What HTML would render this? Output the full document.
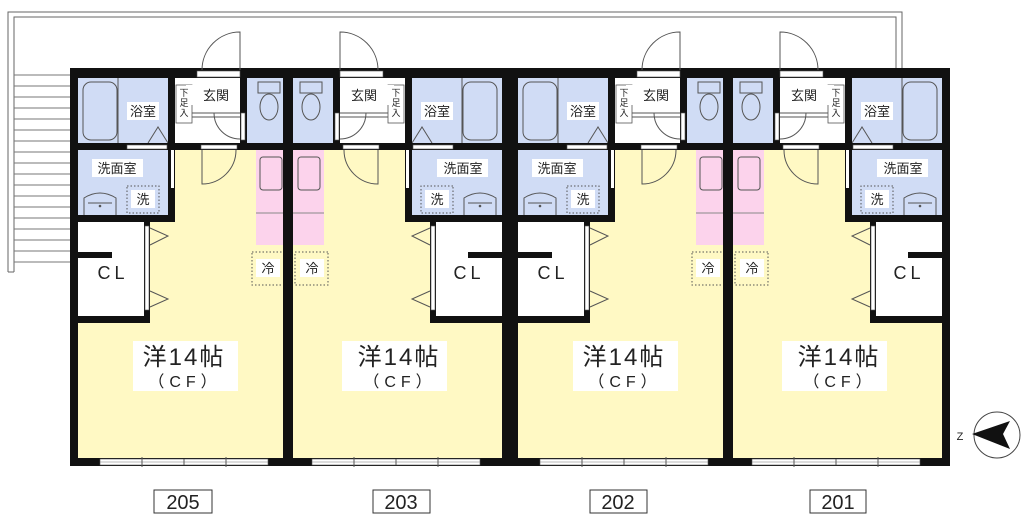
<!DOCTYPE html>
<html><head><meta charset="utf-8"><style>
html,body{margin:0;padding:0;background:#fff}
svg{display:block}
text{font-family:"Liberation Sans","Noto Sans CJK JP",sans-serif;fill:#222}
</style></head><body>
<svg width="1024" height="521" viewBox="0 0 1024 521" xmlns="http://www.w3.org/2000/svg">
<defs>
<g id="u">
  <rect x="77" y="78" width="212" height="380" fill="#fff"/>
  <rect x="77" y="150" width="212" height="308" fill="#fff9c4"/>
  <rect x="78" y="78" width="90" height="65" fill="#d0dcf5"/>
  <rect x="78" y="150" width="94" height="65" fill="#d0dcf5"/>
  <rect x="247" y="78" width="42" height="65" fill="#d0dcf5"/>
  <rect x="78" y="222" width="68" height="96" fill="#fff"/>
  <rect x="256" y="150" width="33" height="95" fill="#fcd3ec"/>
  <rect x="260" y="157" width="22" height="33" rx="3" fill="none" stroke="#555"/>
  <line x1="256" y1="213" x2="289" y2="213" stroke="#888"/>
  <rect x="83" y="82" width="34" height="58" rx="8" fill="none" stroke="#555"/>
  <line x1="118" y1="78" x2="118" y2="143" stroke="#555"/>
  <path d="M148 143 L158 127 L168 143" fill="none" stroke="#555"/>
  <rect x="258" y="82" width="22" height="11" fill="none" stroke="#555"/>
  <ellipse cx="269" cy="107" rx="9" ry="13" fill="none" stroke="#555"/>
  <path d="M84 215 L84 198 Q100 188 116 198 L116 215" fill="none" stroke="#555"/>
  <line x1="88" y1="203" x2="112" y2="203" stroke="#555"/>
  <circle cx="100" cy="206" r="1.3" fill="#555"/>
  <rect x="127" y="186" width="32" height="27" fill="none" stroke="#555" stroke-dasharray="1.5,2"/>
  <rect x="252" y="252" width="33" height="33" fill="none" stroke="#555" stroke-dasharray="1.5,2"/>
  <rect x="70" y="68" width="222" height="10" fill="#111"/>
  <rect x="70" y="458" width="222" height="8" fill="#111"/>
  <rect x="70" y="68" width="8" height="398" fill="#111"/>
  <rect x="287" y="68" width="10" height="398" fill="#111"/>
  <rect x="78" y="143" width="209" height="7" fill="#111"/>
  <rect x="168" y="78" width="7" height="144" fill="#111"/>
  <rect x="78" y="215" width="97" height="7" fill="#111"/>
  <rect x="240" y="78" width="7" height="72" fill="#111"/>
  <rect x="78" y="316" width="72" height="7" fill="#111"/>
  <rect x="78" y="252" width="34" height="6" fill="#111"/>
  <rect x="144" y="222" width="6" height="101" fill="#111"/>
  <rect x="197" y="71" width="43" height="6" fill="#fff" stroke="#555" stroke-width=".6"/>
  <rect x="127" y="145" width="40" height="4" fill="#fff" stroke="#555" stroke-width=".6"/>
  <rect x="201" y="145" width="36" height="4" fill="#fff" stroke="#555" stroke-width=".6"/>
  <rect x="171" y="150" width="3" height="38" fill="#fff"/>
  <rect x="241" y="113" width="4" height="27" fill="#fff" stroke="#555" stroke-width=".6"/>
  <rect x="145" y="226" width="4" height="84" fill="#fff" stroke="#555" stroke-width=".6"/>
  <path d="M150 228 L168 236 L150 245 M150 291 L168 299 L150 307" fill="none" stroke="#555"/>
  <path d="M240 70 L240 32 A38 38 0 0 0 202 70" fill="none" stroke="#555"/>
  <path d="M202 150 L202 184 A34 34 0 0 0 236 150" fill="none" stroke="#555"/>
  <path d="M214 113 A26 26 0 0 0 240 139" fill="none" stroke="#555"/>
  <line x1="192" y1="113" x2="240" y2="113" stroke="#555"/>
  <line x1="192" y1="117" x2="240" y2="117" stroke="#555"/>
  <rect x="176" y="85" width="16" height="38" fill="#fff" stroke="#555" stroke-width=".8"/>
  <rect x="100" y="459" width="168" height="6" fill="#fff" stroke="#555" stroke-width=".6"/>
  <line x1="100" y1="462" x2="268" y2="462" stroke="#777" stroke-width=".6"/>
  <line x1="184" y1="459" x2="184" y2="465" stroke="#555"/>
  <line x1="142" y1="457" x2="142" y2="467" stroke="#555"/>
  <line x1="226" y1="457" x2="226" y2="467" stroke="#555"/>
  <rect x="127" y="102" width="32" height="18" fill="#fff"/>
  <rect x="92" y="159" width="51" height="18" fill="#fff"/>
  <rect x="131" y="190" width="24" height="18" fill="#fff"/>
  <rect x="186" y="85" width="50" height="20" fill="#fff"/>
  <rect x="256" y="259" width="24" height="18" fill="#fff"/>
  <rect x="133" y="341" width="105" height="50" fill="#fff"/>
</g>
</defs>
<g stroke="#666" fill="none" stroke-width="1">
  <path d="M8 272 L8 12 L902 12 L902 68"/>
  <path d="M14 272 L14 17 L896 17 L896 68"/>
  <line x1="8" y1="272" x2="14" y2="272"/>
</g>
<g stroke="#777" stroke-width="1">
  <line x1="14" y1="75" x2="70" y2="75"/><line x1="14" y1="86" x2="70" y2="86"/>
  <line x1="14" y1="97" x2="70" y2="97"/><line x1="14" y1="108" x2="70" y2="108"/>
  <line x1="14" y1="119" x2="70" y2="119"/><line x1="14" y1="130" x2="70" y2="130"/>
  <line x1="14" y1="141" x2="70" y2="141"/><line x1="14" y1="152" x2="70" y2="152"/>
  <line x1="14" y1="163" x2="70" y2="163"/><line x1="14" y1="174" x2="70" y2="174"/>
  <line x1="14" y1="185" x2="70" y2="185"/><line x1="14" y1="196" x2="70" y2="196"/>
  <line x1="14" y1="207" x2="70" y2="207"/><line x1="14" y1="218" x2="70" y2="218"/>
  <line x1="14" y1="229" x2="70" y2="229"/><line x1="14" y1="240" x2="70" y2="240"/>
  <line x1="14" y1="251" x2="70" y2="251"/><line x1="14" y1="262" x2="70" y2="262"/>
</g>
<use href="#u"/>
<use href="#u" transform="translate(580,0) scale(-1,1)"/>
<use href="#u" transform="translate(440,0)"/>
<use href="#u" transform="translate(1020,0) scale(-1,1)"/>
<rect x="942" y="68" width="8" height="398" fill="#111"/>
<g font-size="13" text-anchor="middle">
  <text x="143" y="116">浴室</text><text x="437" y="116">浴室</text><text x="583" y="116">浴室</text><text x="877" y="116">浴室</text>
  <text x="216" y="100">玄関</text><text x="364" y="100">玄関</text><text x="656" y="100">玄関</text><text x="804" y="100">玄関</text>
  <text x="117" y="173">洗面室</text><text x="463" y="173">洗面室</text><text x="557" y="173">洗面室</text><text x="903" y="173">洗面室</text>
  <text x="143" y="204">洗</text><text x="437" y="204">洗</text><text x="583" y="204">洗</text><text x="877" y="204">洗</text>
  <text x="268" y="273">冷</text><text x="312" y="273">冷</text><text x="708" y="273">冷</text><text x="752" y="273">冷</text>
</g>
<g font-size="9" text-anchor="middle">
  <text x="184" y="96">下</text><text x="184" y="106">足</text><text x="184" y="116">入</text>
  <text x="396" y="96">下</text><text x="396" y="106">足</text><text x="396" y="116">入</text>
  <text x="624" y="96">下</text><text x="624" y="106">足</text><text x="624" y="116">入</text>
  <text x="836" y="96">下</text><text x="836" y="106">足</text><text x="836" y="116">入</text>
</g>
<g font-size="18" text-anchor="middle" letter-spacing="4">
  <text x="113" y="279">CL</text><text x="469" y="279">CL</text><text x="553" y="279">CL</text><text x="909" y="279">CL</text>
</g>
<g font-size="24" text-anchor="middle" letter-spacing="2">
  <text x="184" y="365">洋14帖</text><text x="399" y="365">洋14帖</text><text x="624" y="365">洋14帖</text><text x="839" y="365">洋14帖</text>
</g>
<g font-size="16" text-anchor="middle" letter-spacing="5">
  <text x="185" y="387">（CF）</text><text x="400" y="387">（CF）</text><text x="625" y="387">（CF）</text><text x="840" y="387">（CF）</text>
</g>
<g fill="#fff" stroke="#333" stroke-width="1">
  <rect x="154" y="490" width="58" height="23"/><rect x="373" y="490" width="57" height="23"/>
  <rect x="590" y="490" width="57" height="23"/><rect x="810" y="490" width="56" height="23"/>
</g>
<g font-size="20" text-anchor="middle">
  <text x="183" y="509">205</text><text x="401" y="509">203</text><text x="618" y="509">202</text><text x="838" y="509">201</text>
</g>
<circle cx="997" cy="435" r="23" fill="#fff" stroke="#444"/>
<path d="M972 434 L1010 421 L1003 434 L1010 449 Z" fill="#111"/>
<text x="960" y="440" font-size="11" text-anchor="middle" fill="#666">Z</text>
</svg>
</body></html>
